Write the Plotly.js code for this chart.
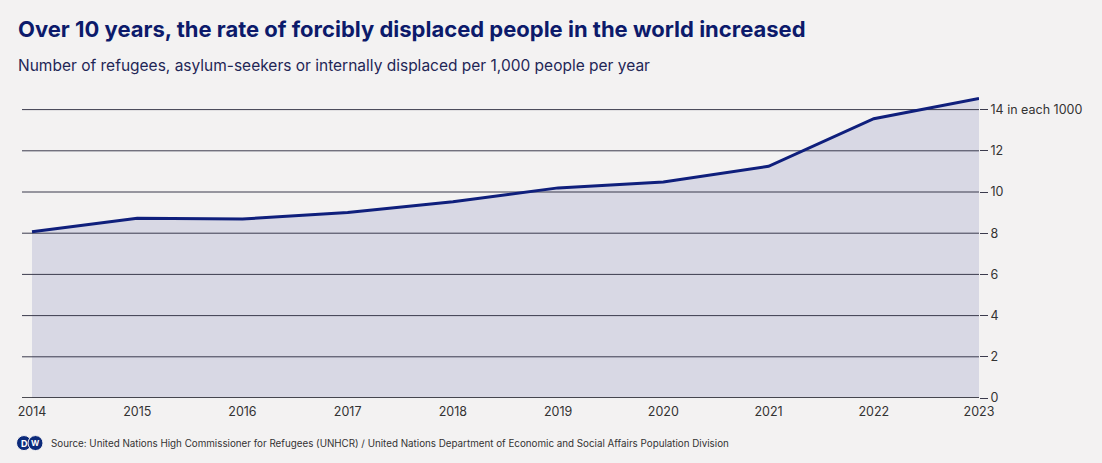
<!DOCTYPE html>
<html>
<head>
<meta charset="utf-8">
<script src="https://cdn.plot.ly/plotly-3.0.1.min.js"></script>
<style>
html,body{margin:0;padding:0;background:#f3f2f2;}
#chart{width:1102px;height:463px;}
</style>
</head>
<body>
<div id="chart"></div>
<script>
const years = [2014, 2015, 2016, 2017, 2018, 2019, 2020, 2021, 2022, 2023];
const rate = [8.07, 8.72, 8.69, 9.0, 9.53, 10.2, 10.49, 11.25, 13.56, 14.54];
const yTickVals = [0, 2, 4, 6, 8, 10, 12, 14];
const yTickText = ["0", "2", "4", "6", "8", "10", "12", "14 in each 1000"];

const W = 1102, H = 463;
const navy = "#0f1f7c";
const PW = W - 145, PH = H - 154.4;
const px = v => (v - 22) / PW;
const py = v => (398 - v) / PH;
const xRange = [2013.905, 2023];

const fillTrace = {
  x: years, y: rate, type: "scatter", mode: "lines",
  fill: "tozeroy", fillcolor: "#d8d8e4",
  line: {color: "rgba(0,0,0,0)", width: 0}, hoverinfo: "skip"
};

const gx = [], gy = [];
yTickVals.filter(v => v !== 0).forEach(v => { gx.push(xRange[0], xRange[1], null); gy.push(v, v, null); });
const gridTrace = {
  x: gx, y: gy, type: "scatter", mode: "lines",
  line: {color: "#3b3b4d", width: 1}, hoverinfo: "skip", cliponaxis: false
};
const zeroTrace = {
  x: xRange, y: [0, 0], type: "scatter", mode: "lines",
  line: {color: "#15151d", width: 1.6}, hoverinfo: "skip", cliponaxis: false
};

const lineTrace = {
  x: years, y: rate, type: "scatter", mode: "lines",
  line: {color: navy, width: 3}, hoverinfo: "x+y", cliponaxis: false
};

const layout = {
  width: W, height: H,
  paper_bgcolor: "#f3f2f2", plot_bgcolor: "#f3f2f2",
  margin: {l: 22, r: 123, t: 89.4, b: 65},
  showlegend: false,
  font: {family: "Inter, 'Noto Sans', sans-serif", color: "#333"},
  xaxis: {
    range: xRange, tickvals: years, ticktext: years.map(String),
    showgrid: false, zeroline: false, showline: false, ticks: "",
    ticklabelstandoff: 4,
    tickfont: {size: 12.5, color: "#333"}, fixedrange: true
  },
  yaxis: {
    side: "right", range: [0, 15], tickvals: yTickVals, ticktext: yTickText,
    showgrid: false, zeroline: false,
    ticks: "outside", ticklen: 8, tickcolor: "#3b3b4d", tickwidth: 1,
    tickfont: {size: 12.5, color: "#333"}, showline: false, fixedrange: true
  },
  annotations: [
    {text: "<b>Over 10 years, the rate of forcibly displaced people in the world increased</b>",
     xref: "paper", yref: "paper", x: px(16), xanchor: "left",
     y: py(29), yanchor: "middle", showarrow: false,
     font: {size: 22, color: "#0c1a6b", family: "Inter, 'Noto Sans', sans-serif"}},
    {text: "Number of refugees, asylum-seekers or internally displaced per 1,000 people per year",
     xref: "paper", yref: "paper", x: px(16), xanchor: "left",
     y: py(66), yanchor: "middle", showarrow: false,
     font: {size: 15.5, color: "#1f2656", family: "Inter, 'Noto Sans', sans-serif"}},
    {text: "Source: United Nations High Commissioner for Refugees (UNHCR) / United Nations Department of Economic and Social Affairs Population Division",
     xref: "paper", yref: "paper", x: px(49), xanchor: "left",
     y: py(443), yanchor: "middle", showarrow: false,
     font: {size: 9.8, color: "#333", family: "Inter, 'Noto Sans', sans-serif"}},
    {text: "<b>D</b>", xref: "paper", yref: "paper", x: px(24), xanchor: "center",
     y: py(443), yanchor: "middle", showarrow: false,
     font: {size: 9, color: "#ffffff", family: "Inter, sans-serif"}},
    {text: "<b>W</b>", xref: "paper", yref: "paper", x: px(35.5), xanchor: "center",
     y: py(443), yanchor: "middle", showarrow: false,
     font: {size: 8, color: "#ffffff", family: "Inter, sans-serif"}}
  ],
  shapes: [
    {type: "circle", xref: "paper", yref: "paper", layer: "above",
     x0: px(16.5), x1: px(31.5), y0: py(450.5), y1: py(435.5),
     fillcolor: "#0c2a7a", line: {color: "#f3f2f2", width: 1}},
    {type: "circle", xref: "paper", yref: "paper", layer: "above",
     x0: px(28), x1: px(43), y0: py(450.5), y1: py(435.5),
     fillcolor: "#0c2a7a", line: {color: "#f3f2f2", width: 1}}
  ]
};

Plotly.newPlot("chart", [fillTrace, gridTrace, zeroTrace, lineTrace], layout, {displayModeBar: false, staticPlot: true});
</script>
</body>
</html>
